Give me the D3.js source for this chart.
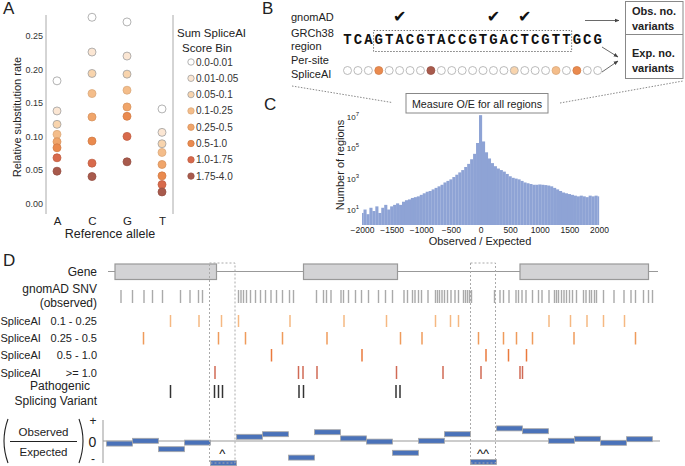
<!DOCTYPE html>
<html>
<head>
<meta charset="utf-8">
<script src="https://cdn.jsdelivr.net/npm/d3@7"></script>
<style>
body { margin: 0; background: #fff; }
svg { display: block; font-family: "Liberation Sans", Arial, sans-serif; }
</style>
</head>
<body>
<div id="chart"></div>
<script>
// panel A: relative substitution rate per reference allele and SpliceAI score bin
var alleles = ['A', 'C', 'G', 'T'];
var scoreBins = ['0.0-0.01', '0.01-0.05', '0.05-0.1', '0.1-0.25', '0.25-0.5', '0.5-1.0', '1.0-1.75', '1.75-4.0'];
var binEdges = [0.01, 0.05, 0.1, 0.25, 0.5, 1.0, 1.75];
var binColors = ['#ffffff', '#fbe6d3', '#f8d4ad', '#f4bd8a', '#f0a56a', '#ea8a4e', '#d86a4c', '#a85a4c'];
var rateA = [0.183, 0.138, 0.118, 0.103, 0.092, 0.083, 0.068, 0.048];
var rateC = [0.278, 0.226, 0.194, 0.164, 0.129, 0.093, 0.060, 0.040];
var rateG = [0.271, 0.220, 0.193, 0.169, 0.144, 0.130, 0.100, 0.062];
var rateT = [0.141, 0.106, 0.089, 0.076, 0.058, 0.041, 0.028, 0.017];
var rateTicks = [0, 0.05, 0.10, 0.15, 0.20, 0.25];

// panel B: example region
var sequence = 'TCAGTACGTACCGTGACTCGTTGCG'.split('');
var siteScore = [0, 0, 0, 0.6, 0, 0, 0, 0, 2.0, 0, 0, 0, 0, 0, 0, 0, 0.07, 0, 0, 0, 0.15, 0, 0.55, 0, 0];
var observedSites = [5, 14, 17];
var regionSites = [3, 21];

// panel C: histogram of observed / expected
var ratioBins = d3.range(-2000, 2001, 50);
var regionCounts = [6, 10, 5, 13, 8, 16, 6, 13, 20, 10, 16, 20, 25, 20, 32, 40, 45, 56, 63, 71,
  89, 112, 141, 158, 200, 251, 316, 398, 562, 708, 891, 1259, 1778, 2512, 3548, 5623, 8913, 17783, 39811, 199526,
  12589254,
  251189, 50119, 19953, 10000, 6310, 4467, 3548, 2818, 1995, 1413, 1122, 1000, 891, 708, 562, 501, 447, 398, 398,
  417, 398, 380, 355, 316, 251, 200, 158, 126, 112, 100, 89, 79, 71, 79, 71, 63, 79, 71, 79, 71];
var countTicks = [10, 1e3, 1e5, 1e7];

// panel D: gene model (positions in arbitrary genomic units)
var exons = [[14, 217], [391, 579], [824, 1081]];
var regions = [[203, 254], [725, 775]];
var snvPos = [26, 49, 72, 89, 109, 145, 164, 181, 189, 261, 266, 271, 277, 285, 295, 305, 315, 326, 337, 349,
  363, 371, 417, 431, 437, 446, 466, 471, 481, 495, 507, 521, 541, 555, 569, 592, 599, 609, 614, 621, 627, 640,
  655, 659, 663, 668, 673, 679, 686, 694, 701, 711, 715, 719, 723, 727, 773, 784, 791, 802, 816, 821, 828, 836,
  849, 861, 868, 882, 893, 897, 901, 907, 912, 917, 923, 929, 937, 951, 956, 963, 967, 973, 977, 991, 1012,
  1032, 1046, 1055, 1071, 1081, 1089];
var splice010 = [125, 182, 227, 261, 364, 472, 557, 655, 685, 701, 882, 925, 958, 991, 1033];
var splice025 = [71, 221, 275, 349, 438, 585, 628, 741, 791, 817, 849, 932, 1055];
var splice050 = [327, 508, 756, 801, 837];
var splice100 = [214, 381, 390, 418, 577, 670, 746, 824, 829];
var pathogenic = [125, 213, 221, 229, 382, 391, 576, 584];
var windowStart = -3, windowWidth = 52;
var oeDeviation = [-0.13, 0.01, -0.41, -0.08, -1.11, 0.21, 0.34, -0.83, 0.44, 0.13, -0.03,
  -0.59, 0.01, 0.34, -1.05, 0.63, 0.49, 0.01, 0.11, -0.09, 0.09];

var svg = d3.select('#chart').append('svg').attr('width', 685).attr('height', 466);
svg.append('rect').attr('width', 685).attr('height', 466).attr('fill', '#fff');

function txt(g, x, y, s, size, anchor, weight) {
    return g.append('text').attr('x', x).attr('y', y).attr('font-size', size)
        .attr('text-anchor', anchor || 'start').attr('font-weight', weight || 'normal')
        .attr('fill', '#222').text(s);
}

var binColor = d3.scaleThreshold().domain(binEdges).range(binColors);

// panel letters
txt(svg, 3, 14, 'A', 17);
txt(svg, 262, 14, 'B', 17);
txt(svg, 264, 110, 'C', 17);
txt(svg, 3, 266, 'D', 17);

// ---------- panel A
var gA = svg.append('g');
var xA = d3.scalePoint().domain(alleles).range([57, 162]);
var yA = d3.scaleLinear().domain([0, 0.25]).range([203.3, 36]);

gA.append('line').attr('x1', 46).attr('x2', 46).attr('y1', 15).attr('y2', 214).attr('stroke', '#aaa');
gA.append('line').attr('x1', 173).attr('x2', 173).attr('y1', 15).attr('y2', 214).attr('stroke', '#aaa');

var axA = gA.append('g').attr('transform', 'translate(46,0)')
    .call(d3.axisLeft(yA).tickValues(rateTicks).tickSize(0).tickPadding(3).tickFormat(d3.format('.2f')));
axA.select('.domain').remove();
axA.selectAll('text').attr('font-size', 9).attr('fill', '#333').attr('font-family', null);

var axAx = gA.append('g').attr('transform', 'translate(0,214)')
    .call(d3.axisBottom(xA).tickSize(0).tickPadding(3));
axAx.select('.domain').remove();
axAx.selectAll('text').attr('font-size', 11.5).attr('fill', '#222').attr('font-family', null);

txt(gA, 110, 238, 'Reference allele', 12.5, 'middle');
txt(gA, 0, 0, 'Relative substitution rate', 11, 'middle').attr('transform', 'translate(21,117) rotate(-90)');

var rateRows = [rateA, rateC, rateG, rateT];
var dots = [];
alleles.forEach(function (a, i) {
    rateRows[i].forEach(function (r, j) { dots.push({ allele: a, rate: r, bin: j }); });
});
gA.selectAll('circle.dot').data(dots).join('circle').attr('class', 'dot')
    .attr('cx', function (d) { return xA(d.allele); })
    .attr('cy', function (d) { return yA(d.rate); })
    .attr('r', 4)
    .attr('fill', function (d) { return binColors[d.bin]; })
    .attr('stroke', function (d) { return d.bin < 3 ? '#a0a0a0' : d3.color(binColors[d.bin]).darker(0.3); })
    .attr('stroke-width', 0.8);

// legend
txt(gA, 177, 37, 'Sum SpliceAI', 11.5);
txt(gA, 207, 52, 'Score Bin', 11.5, 'middle');
var leg = gA.selectAll('g.leg').data(scoreBins).join('g').attr('class', 'leg')
    .attr('transform', function (d, i) { return 'translate(191,' + (62 + i * 16.3) + ')'; });
leg.append('circle').attr('r', 3.2)
    .attr('fill', function (d, i) { return binColors[i]; })
    .attr('stroke', function (d, i) { return i < 3 ? '#a0a0a0' : d3.color(binColors[i]).darker(0.3); })
    .attr('stroke-width', 0.8);
leg.append('text').attr('x', 5).attr('y', 3.5).attr('font-size', 10).attr('fill', '#333').text(function (d) { return d; });

// ---------- panel B
var gB = svg.append('g');
txt(gB, 291, 21, 'gnomAD', 11);
txt(gB, 291, 37, 'GRCh38', 11);
txt(gB, 291, 50, 'region', 11);
txt(gB, 291, 64, 'Per-site', 11);
txt(gB, 291, 78, 'SpliceAI', 11);

var xB = d3.scaleLinear().domain([0, sequence.length - 1]).range([347.5, 597.7]);
var step = xB(1) - xB(0);

gB.append('rect')
    .attr('x', xB(regionSites[0]) - step / 2).attr('y', 30.5)
    .attr('width', xB(regionSites[1]) - xB(regionSites[0]) + step).attr('height', 21)
    .attr('fill', 'none').attr('stroke', '#777').attr('stroke-dasharray', '1.5,1.5');

gB.selectAll('text.base').data(sequence).join('text').attr('class', 'base')
    .attr('x', function (d, i) { return xB(i); }).attr('y', 44)
    .attr('text-anchor', 'middle').attr('font-size', 14).attr('font-weight', 'bold')
    .attr('font-family', '"Liberation Mono", "Courier New", monospace').attr('fill', '#111')
    .text(function (d) { return d; });

gB.selectAll('text.chk').data(observedSites).join('text').attr('class', 'chk')
    .attr('x', function (d) { return xB(d); }).attr('y', 22)
    .attr('text-anchor', 'middle').attr('font-size', 16).attr('fill', '#111')
    .attr('font-family', '"DejaVu Sans", sans-serif')
    .text('\u2714');

gB.selectAll('circle.site').data(siteScore).join('circle').attr('class', 'site')
    .attr('cx', function (d, i) { return xB(i); }).attr('cy', 70.5).attr('r', 4)
    .attr('fill', function (d) { return binColor(d); })
    .attr('stroke', function (d) { return d < 0.1 ? '#aaa' : d3.color(binColor(d)).darker(0.3); })
    .attr('stroke-width', 0.8);

// Obs / Exp box
gB.append('rect').attr('x', 625.5).attr('y', 1.5).attr('width', 57.5).attr('height', 77)
    .attr('fill', '#fff').attr('stroke', '#888');
gB.append('line').attr('x1', 625.5).attr('x2', 683).attr('y1', 34.5).attr('y2', 34.5).attr('stroke', '#888');
txt(gB, 632, 15, 'Obs. no.', 11, 'start', 'bold');
txt(gB, 632, 30, 'variants', 11, 'start', 'bold');
txt(gB, 632, 57, 'Exp. no.', 11, 'start', 'bold');
txt(gB, 632, 72, 'variants', 11, 'start', 'bold');

var defs = svg.append('defs');
defs.append('marker').attr('id', 'arr').attr('viewBox', '0 0 10 10').attr('refX', 9).attr('refY', 5)
    .attr('markerWidth', 6).attr('markerHeight', 6).attr('orient', 'auto')
    .append('path').attr('d', 'M0,1 L10,5 L0,9 z').attr('fill', '#444');
[[585, 20.5, 619, 20.5], [602, 47, 618, 57], [602, 72, 618, 61]].forEach(function (a) {
    gB.append('line').attr('x1', a[0]).attr('y1', a[1]).attr('x2', a[2]).attr('y2', a[3])
        .attr('stroke', '#444').attr('stroke-width', 0.8).attr('marker-end', 'url(#arr)');
});

// ---------- panel C
var gC = svg.append('g');
gC.append('line').attr('x1', 292).attr('y1', 86).attr('x2', 392).attr('y2', 102.5)
    .attr('stroke', '#888').attr('stroke-dasharray', '1.5,1.5');
gC.append('line').attr('x1', 560).attr('y1', 103).attr('x2', 683).attr('y2', 81)
    .attr('stroke', '#888').attr('stroke-dasharray', '1.5,1.5');
gC.append('rect').attr('x', 406).attr('y', 93.5).attr('width', 142).attr('height', 19.5)
    .attr('fill', '#fff').attr('stroke', '#888');
txt(gC, 477, 107.5, 'Measure O/E for all regions', 10.7, 'middle');

var xC = d3.scaleLinear().domain([-2000, 2000]).range([362, 599]);
var yC = d3.scaleLog().domain([1, 1e7]).range([225, 116.7]);

gC.selectAll('rect.bin').data(ratioBins).join('rect').attr('class', 'bin')
    .attr('x', function (d) { return xC(Math.max(d - 25, -2000)); })
    .attr('width', function (d) { return xC(Math.min(d + 25, 2000)) - xC(Math.max(d - 25, -2000)) + 0.15; })
    .attr('y', function (d, i) { return yC(regionCounts[i]); })
    .attr('height', function (d, i) { return yC(1) - yC(regionCounts[i]); })
    .attr('fill', '#8ea3d5');

var axCx = gC.append('g').attr('transform', 'translate(0,225)')
    .call(d3.axisBottom(xC).tickValues(d3.range(-2000, 2001, 500)).tickSize(0).tickPadding(2).tickFormat(d3.format('d')));
axCx.select('.domain').remove();
axCx.selectAll('text').attr('font-size', 8.5).attr('fill', '#222').attr('font-family', null);
txt(gC, 480, 245, 'Observed / Expected', 11, 'middle');

var ytC = gC.selectAll('text.yt').data(countTicks).join('text').attr('class', 'yt')
    .attr('x', 359).attr('y', function (d) { return yC(d) + 3; })
    .attr('text-anchor', 'end').attr('font-size', 8).attr('fill', '#222');
ytC.append('tspan').text('10');
ytC.append('tspan').attr('dy', -4).attr('font-size', 6).text(function (d) { return Math.round(Math.log10(d)); });
txt(gC, 0, 0, 'Number of regions', 11, 'middle').attr('transform', 'translate(344,165) rotate(-90)');

// ---------- panel D
var gD = svg.append('g');
var xD = d3.scaleLinear().domain([0, 1100]).range([108, 658]);

txt(gD, 97, 276, 'Gene', 12, 'end');
txt(gD, 97, 293, 'gnomAD SNV', 12, 'end');
txt(gD, 97, 306.5, '(observed)', 12, 'end');
var spliceRows = [
    { label: '0.1 - 0.25', pos: splice010, y0: 315, y1: 327, color: '#f5b882' },
    { label: '0.25 - 0.5', pos: splice025, y0: 332, y1: 344.5, color: '#ef9b5b' },
    { label: '0.5 - 1.0', pos: splice050, y0: 349, y1: 361.5, color: '#ea7a3c' },
    { label: '>= 1.0', pos: splice100, y0: 366, y1: 379, color: '#d06a55' }
];
spliceRows.forEach(function (r) {
    var base = (r.y0 + r.y1) / 2 + 4;
    txt(gD, 0.5, base, 'SpliceAI', 11);
    txt(gD, 97, base, r.label, 11, 'end');
    gD.selectAll(null).data(r.pos).join('line')
        .attr('x1', function (d) { return xD(d); }).attr('x2', function (d) { return xD(d); })
        .attr('y1', r.y0).attr('y2', r.y1).attr('stroke', r.color).attr('stroke-width', 1.5);
});
txt(gD, 97, 390, 'Pathogenic', 12, 'end').attr('dx', -7);
txt(gD, 97, 405, 'Splicing Variant', 12, 'end');

// gene model
gD.append('line').attr('x1', xD(0)).attr('x2', xD(1100)).attr('y1', 271.5).attr('y2', 271.5)
    .attr('stroke', '#999').attr('stroke-width', 1.2);
gD.selectAll('rect.exon').data(exons).join('rect').attr('class', 'exon')
    .attr('x', function (d) { return xD(d[0]); }).attr('width', function (d) { return xD(d[1]) - xD(d[0]); })
    .attr('y', 264).attr('height', 15.5).attr('fill', '#d3d3d5').attr('stroke', '#999').attr('stroke-width', 1.2);

// observed SNVs
gD.selectAll('line.snv').data(snvPos).join('line').attr('class', 'snv')
    .attr('x1', function (d) { return xD(d); }).attr('x2', function (d) { return xD(d); })
    .attr('y1', 290).attr('y2', 303).attr('stroke', '#aaa').attr('stroke-width', 1.4);

// pathogenic splicing variants
gD.selectAll('line.path').data(pathogenic).join('line').attr('class', 'path')
    .attr('x1', function (d) { return xD(d); }).attr('x2', function (d) { return xD(d); })
    .attr('y1', 385).attr('y2', 398).attr('stroke', '#333').attr('stroke-width', 1.5);

// O/E track
var yOE = d3.scaleLinear().domain([-1, 1]).range([461, 421]);
gD.append('line').attr('x1', 103).attr('x2', 103).attr('y1', 420).attr('y2', 463).attr('stroke', '#999');
gD.append('line').attr('x1', 103).attr('x2', 660).attr('y1', yOE(0)).attr('y2', yOE(0)).attr('stroke', '#999');
txt(gD, 93, 425, '+', 12, 'middle');
txt(gD, 92.5, 446.5, '0', 14, 'middle');
txt(gD, 93, 463, '-', 12, 'middle');
txt(gD, 43.5, 435.5, 'Observed', 11.5, 'middle');
txt(gD, 43.5, 455.5, 'Expected', 11.5, 'middle');
gD.append('line').attr('x1', 10).attr('x2', 77).attr('y1', 441.5).attr('y2', 441.5).attr('stroke', '#222');
gD.append('path').attr('d', 'M8,419 Q0,441 8,463').attr('fill', 'none').attr('stroke', '#222').attr('stroke-width', 1.1);
gD.append('path').attr('d', 'M79,419 Q87,441 79,463').attr('fill', 'none').attr('stroke', '#222').attr('stroke-width', 1.1);

gD.selectAll('rect.oe').data(oeDeviation).join('rect').attr('class', 'oe')
    .attr('x', function (d, i) { return xD(windowStart + i * windowWidth); })
    .attr('width', xD(windowWidth) - xD(0))
    .attr('y', function (d) { return yOE(d) - 2.5; }).attr('height', 5)
    .attr('fill', '#4a72b9').attr('stroke', '#a8a8a8').attr('stroke-width', 0.8);

// highlighted regions
gD.selectAll('rect.reg').data(regions).join('rect').attr('class', 'reg')
    .attr('x', function (d) { return xD(d[0]); }).attr('width', function (d) { return xD(d[1]) - xD(d[0]); })
    .attr('y', 263).attr('height', 200)
    .attr('fill', 'none').attr('stroke', '#aaa').attr('stroke-dasharray', '2,2');
var regMarks = ['^', '^^'];
gD.selectAll('text.regm').data(regions).join('text').attr('class', 'regm')
    .attr('x', function (d) { return xD((d[0] + d[1]) / 2); }).attr('y', 458)
    .attr('text-anchor', 'middle').attr('font-size', 13).attr('fill', '#111')
    .text(function (d, i) { return regMarks[i]; });
</script>
</body>
</html>
